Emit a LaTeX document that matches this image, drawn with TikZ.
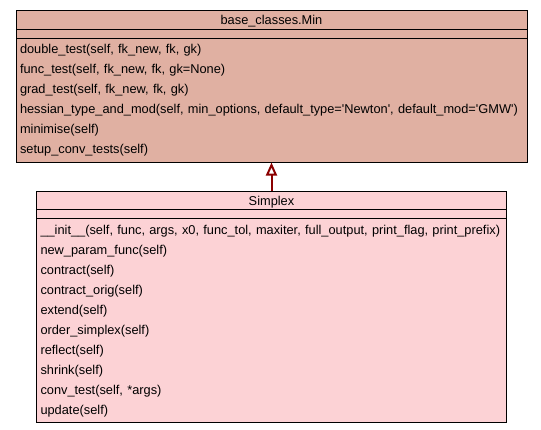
\documentclass[tikz,border=0pt]{standalone}
\usepackage{fontspec}
\setmainfont{Liberation Sans}
\usepackage{tikz}
\usetikzlibrary{positioning,arrows.meta,shapes.multipart}
\definecolor{minfill}{HTML}{E0B0A2}
\definecolor{simplexfill}{HTML}{FCD2D5}
\definecolor{inheritred}{HTML}{8B0000}
\newcommand{\hstrut}{\rule[-0.5pt]{0pt}{12.5pt}}
\newcommand{\mstrut}{\rule[-6.5pt]{0pt}{20pt}}
\newcommand{\sq}{\textquotesingle}

\begin{document}
\begin{tikzpicture}[
    font=\fontsize{12.8}{15}\selectfont,
    uml/.style={rectangle split, rectangle split parts=3, draw=black, line width=1pt, inner xsep=4pt, inner ysep=1.5pt},
    umlbase/.style={uml, fill=minfill, text width=503pt},
    umlchild/.style={uml, fill=simplexfill, text width=462pt},
    inherit/.style={-{Triangle[open,length=13pt,width=11pt]}, line width=2pt, draw=inheritred}
]
\useasboundingbox (0,0) rectangle (541pt,-429pt);

\node[umlbase, anchor=north] (Min) at (271.5pt,-10pt) {{\centering\hstrut base\_classes.Min\par}
\nodepart{second}\vbox to 5pt{}
\nodepart{third}
\begin{tabular}{@{}l@{}}
\mstrut double\_test(self, fk\_new, fk, gk)\\
\mstrut func\_test(self, fk\_new, fk, gk=None)\\
\mstrut grad\_test(self, fk\_new, fk, gk)\\
\mstrut hessian\_type\_and\_mod(self, min\_options, default\_type=\sq Newton\sq, default\_mod=\sq GMW\sq)\\
\mstrut minimise(self)\\
\mstrut setup\_conv\_tests(self)
\end{tabular}};

\node[umlchild, below=28pt of Min] (Simplex) {{\centering\hstrut Simplex\par}
\nodepart{second}\vbox to 5pt{}
\nodepart{third}
\begin{tabular}{@{}l@{}}
\mstrut \_\_init\_\_(self, func, args, x0, func\_tol, maxiter, full\_output, print\_flag, print\_prefix)\\
\mstrut new\_param\_func(self)\\
\mstrut contract(self)\\
\mstrut contract\_orig(self)\\
\mstrut extend(self)\\
\mstrut order\_simplex(self)\\
\mstrut reflect(self)\\
\mstrut shrink(self)\\
\mstrut conv\_test(self, *args)\\
\mstrut update(self)
\end{tabular}};

\draw[inherit] (Simplex.north) -- (Min.south);
\end{tikzpicture}
\end{document}
